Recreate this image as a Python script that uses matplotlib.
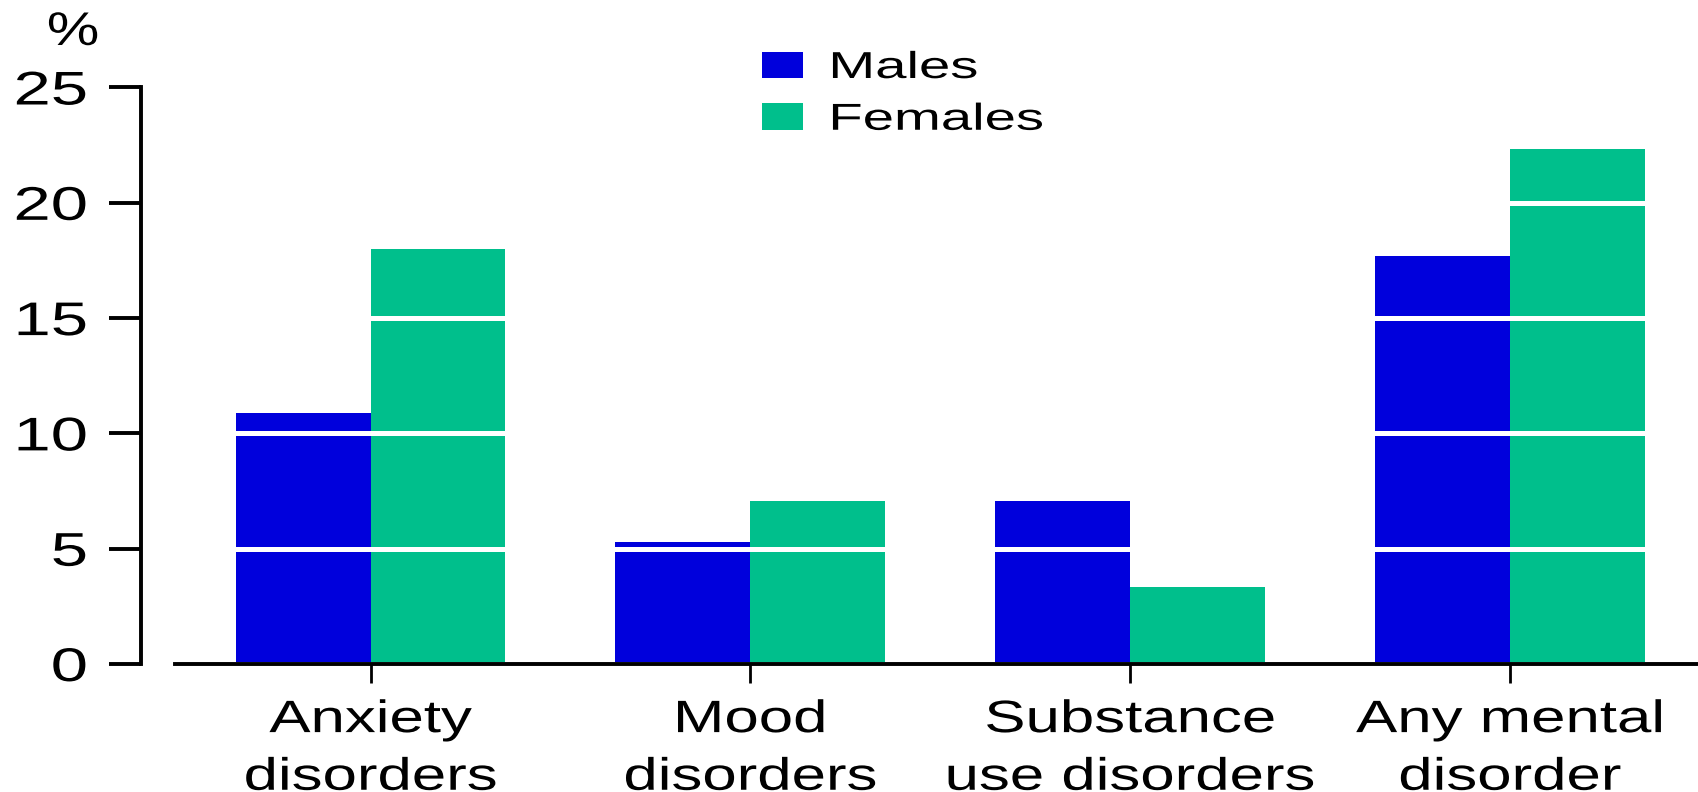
import numpy as np
import matplotlib
matplotlib.use("Agg")
import matplotlib.pyplot as plt
from matplotlib.patheffects import AbstractPathEffect
from matplotlib.transforms import Affine2D

# values (percent)
categories = ["Anxiety\ndisorders", "Mood\ndisorders", "Substance\nuse disorders", "Any mental\ndisorder"]
males = [10.9, 5.3, 7.05, 17.7]
females = [18.0, 7.05, 3.35, 22.35]
series_names = ["Males", "Females"]
yticks = [0, 5, 10, 15, 20, 25]

BLUE = "#0000dc"
GREEN = "#00bf8c"


# the reference text is drawn wide, so stretch glyphs sideways around an anchor
class Stretch(AbstractPathEffect):
    def __init__(self, sx, anchor=0.5):
        super().__init__()
        self.sx = sx
        self.anchor = anchor

    def draw_path(self, renderer, gc, tpath, affine, rgbFace=None):
        ext = tpath.get_extents()
        x0 = ext.x0 + self.anchor * ext.width
        st = Affine2D().translate(-x0, 0).scale(self.sx, 1).translate(x0, 0)
        renderer.draw_path(gc, tpath, st + affine, rgbFace)


plt.rcParams["font.family"] = ["Liberation Sans", "DejaVu Sans"]

W, H = 1699, 792
fig = plt.figure(figsize=(W / 100, H / 100), dpi=100)
ax = fig.add_axes([141.5 / W, (H - 664) / H, (W - 141.5) / W, (664 - 87.5) / H])

x = np.arange(len(categories))
bw = 0.355
ax.bar(x - bw / 2, males, width=bw, color=BLUE, label=series_names[0], zorder=1)
ax.bar(x + bw / 2, females, width=bw, color=GREEN, label=series_names[1], zorder=1)

ax.set_xlim(-0.603, 3.498)
ax.set_ylim(0, 25)

# white lines cut through the bars at every 5 %
ax.set_axisbelow(False)
ax.yaxis.grid(True, color="white", linewidth=3.6)
ax.xaxis.grid(False)

for s in ["top", "right"]:
    ax.spines[s].set_visible(False)
for s in ["left", "bottom"]:
    ax.spines[s].set_linewidth(2.8)
    ax.spines[s].set_zorder(3)
ax.spines["bottom"].set_bounds(-0.515, 3.498)

ax.set_yticks(yticks)
ax.set_yticklabels([str(v) for v in yticks])
ax.tick_params(axis="y", length=23, width=2.8, pad=16, labelsize=34)
ax.set_xticks(x)
ax.set_xticklabels(categories, linespacing=1.52)
ax.tick_params(axis="x", length=14, width=2.0, pad=12, labelsize=32.7)

for lbl in ax.get_yticklabels():
    lbl.set_path_effects([Stretch(1.42, 1.0)])
for lbl in ax.get_xticklabels():
    lbl.set_path_effects([Stretch(1.36, 0.5)])

leg = ax.legend(loc="upper left", bbox_to_anchor=(762 / W, 1 - 50 / H),
                bbox_transform=fig.transFigure, frameon=False, fontsize=27,
                handlelength=1.09, handleheight=0.72, handletextpad=0.72,
                labelspacing=0.42, borderpad=0, borderaxespad=0)
for t in leg.get_texts():
    t.set_path_effects([Stretch(1.5, 0.0)])

pct = fig.text(73 / W, 1 - 33 / H, "%", ha="center", va="center", fontsize=34)
pct.set_path_effects([Stretch(1.25, 0.5)])

fig.savefig("out.png", dpi=100)
